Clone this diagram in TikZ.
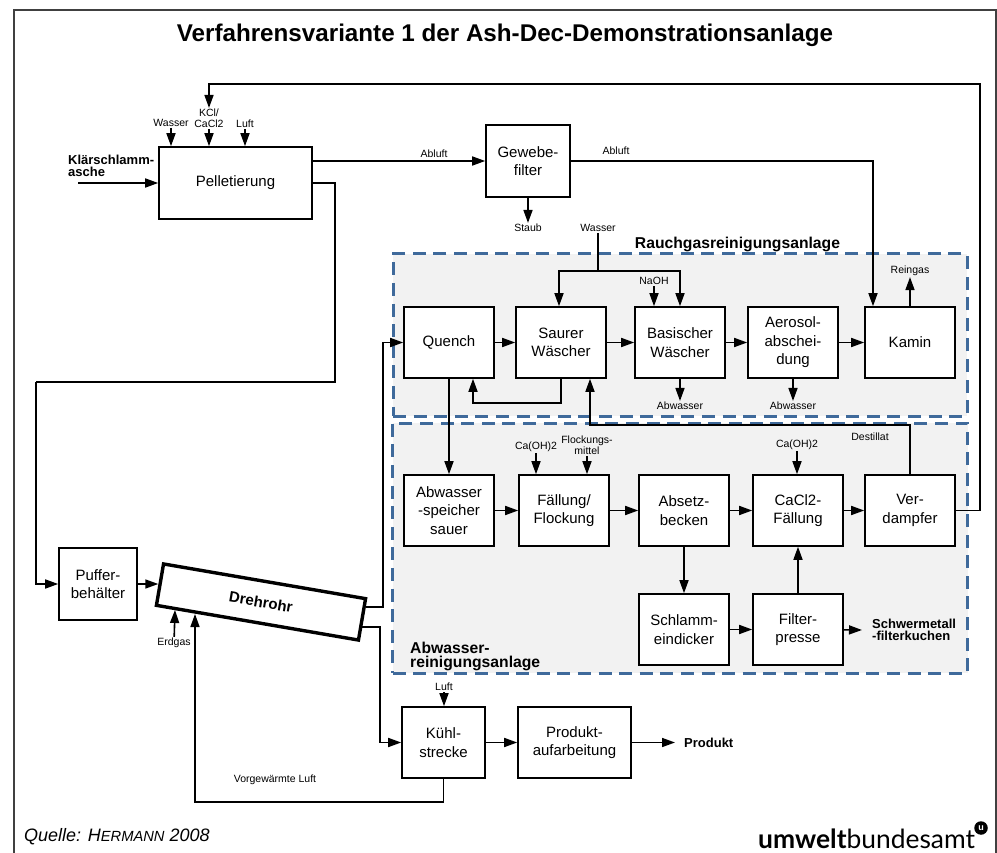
\documentclass[tikz,border=0pt]{standalone}
\usepackage{fontspec}
\setmainfont{Liberation Sans}
\newfontfamily\logofont{Lato}
\usepackage{xcolor}
\usetikzlibrary{arrows.meta}
\definecolor{regionblue}{HTML}{3F6A9B}
\definecolor{regiongrey}{HTML}{F2F2F2}
\tikzstyle{process} = [rectangle, 
minimum width=90pt, 
minimum height=71pt, 
inner sep=0pt,
align=center, 
draw=black, 
line width=1.6pt,
fill=white,
font=\fontsize{15}{18.5}\selectfont]
\tikzstyle{region} = [rectangle, 
draw=regionblue, 
fill=regiongrey, 
line width=3pt, 
dash pattern=on 13pt off 7.6pt, 
inner sep=0pt]
\tikzstyle{note} = [inner sep=1pt, align=center, 
font=\fontsize{10.5}{11}\selectfont]
\tikzstyle{boldnote} = [inner sep=0pt, align=left, 
font=\fontsize{13}{11.5}\selectfont\bfseries]
\tikzstyle{arrow} = [line width=1.6pt,-{Stealth[length=13pt,width=9pt,inset=0pt]}]
\tikzstyle{pipe} = [line width=1.6pt]

\begin{document}
\begin{tikzpicture}[x=1pt,y=-1pt,node distance=112pt]
\useasboundingbox (0,0) rectangle (997,853);

\draw [line width=1.2pt, black!75] (14,853) -- (14,10) -- (996,10) -- (996,853);
\node (title) at (505,35) [inner sep=0pt, font=\fontsize{24.2}{26}\selectfont\bfseries] {Verfahrensvariante 1 der Ash-Dec-Demonstrationsanlage};

\node (rauchgas) at (680,335) [region, minimum width=574pt, minimum height=162pt] {};
\node (abwasseranlage) at (680,548) [region, minimum width=575pt, minimum height=250pt] {};
\node (rauchgastitle) at (737.5,244) [boldnote, font=\fontsize{15.7}{16}\selectfont\bfseries] {Rauchgasreinigungsanlage};
\node (abwassertitle) at (410,656) [boldnote, anchor=west, font=\fontsize{15.7}{14}\selectfont\bfseries] {Abwasser-\\reinigungsanlage};

\node (pellet) at (235.5,183) [process, minimum width=153pt, minimum height=72pt] {Pelletierung};
\node (gewebe) at (528,161) [process, minimum width=84pt, minimum height=72pt] {Gewebe-\\filter};
\node (puffer) at (98,584) [process, minimum width=78pt, minimum height=72pt] {Puffer-\\behälter};
\node (drehrohr) at (261,602) [process, rotate=-9.75, minimum width=205pt, minimum height=42pt, line width=3.4pt, font=\fontsize{15}{15}\selectfont\bfseries] {Drehrohr};
\node (kuehl) at (443.5,742.5) [process, minimum width=83pt] {Kühl-\\strecke};
\node (aufarbeitung) at (574.5,742.5) [process, minimum width=113pt] {Produkt-\\aufarbeitung};

\node (quench) at (449,342.5) [process] {Quench};
\node (saurer) [process, right of=quench] {Saurer\\Wäscher};
\node (basisch) [process, right of=saurer, xshift=7pt] {Basischer\\Wäscher};
\node (aerosol) [process, right of=basisch, xshift=1pt] {Aerosol-\\abschei-\\dung};
\node (kamin) [process, right of=aerosol, xshift=5pt] {Kamin};

\node (speicher) at (449,510.5) [process] {Abwasser\\-speicher\\sauer};
\node (faellung) [process, right of=speicher, xshift=3pt] {Fällung/\\Flockung};
\node (absetz) [process, right of=faellung, xshift=8pt] {Absetz-\\becken};
\node (cacl) [process, right of=absetz, xshift=2pt] {CaCl2-\\Fällung};
\node (verdampfer) [process, right of=cacl] {Ver-\\dampfer};
\node (schlamm) at (684,629.5) [process] {Schlamm-\\eindicker};
\node (presse) [process, right of=schlamm, xshift=2pt] {Filter-\\presse};

\node (klaer) at (68,166) [boldnote, anchor=west] {Klärschlamm-\\asche};
\node (wasserp) at (171,123) [note] {Wasser};
\node (kcl) at (209,118.5) [note] {KCl/\\CaCl2};
\node (luftp) at (245,124) [note] {Luft};
\node (abluft1) at (434,154) [note] {Abluft};
\node (abluft2) at (616,151) [note] {Abluft};
\node (staub) at (528,228) [note] {Staub};
\node (wasserq) at (598,228) [note] {Wasser};
\node (naoh) at (654,281) [note] {NaOH};
\node (reingas) at (910,271) [note] {Reingas};
\node (abwasser1) at (680,406) [note] {Abwasser};
\node (abwasser2) at (793,406) [note] {Abwasser};
\node (destillat) at (870,437) [note] {Destillat};
\node (caoh1) at (536,447) [note] {Ca(OH)2};
\node (flockung) at (587,445.5) [note] {Flockungs-\\mittel};
\node (caoh2) at (797,445) [note] {Ca(OH)2};
\node (erdgas) at (174,643) [note] {Erdgas};
\node (luftk) at (444,687) [note] {Luft};
\node (vorluft) at (275,780) [note] {Vorgewärmte Luft};
\node (schwer) at (872,630) [boldnote, anchor=west] {Schwermetall\\-filterkuchen};
\node (produkt) at (684,742.5) [boldnote, anchor=west] {Produkt};

\node (quelle) at (24,837) [inner sep=0pt, anchor=west, font=\fontsize{18}{20}\selectfont\itshape] {Quelle: H{\fontsize{14.7}{20}\selectfont ERMANN} 2008};
\node (logo) at (758,839) [inner sep=0pt, anchor=west, font=\fontsize{26.4}{28}\selectfont\logofont] {\textbf{umwelt}bundesamt};
\node (logomark) at (981,828) [circle, fill=black, inner sep=0pt, minimum size=13.5pt, text=white, font=\fontsize{9}{9}\selectfont\bfseries] {u};

\coordinate (start) at (78,183);
\coordinate (bendA) at (335,382);
\coordinate (bendB) at (36,382);
\coordinate (bendT) at (980,84);
\coordinate (split) at (598,271);
\coordinate (exitQ) at (366,607);
\coordinate (exitK) at (362,627);
\coordinate (bendQ) at (383,342.5);
\coordinate (bendK) at (380,742.5);
\coordinate (rohrE) at (175,610);
\coordinate (rohrL) at (195,614);

\draw [arrow] (start) -- (pellet);
\draw [arrow] (gewebe -| pellet.east) -- (gewebe);
\draw [pipe] (pellet.east) -| (bendA) -- (bendB);
\draw [arrow] (bendB) |- (puffer);
\draw [arrow] (puffer.east) -- (puffer.east -| drehrohr.west);
\draw [arrow] (wasserp) -- (wasserp |- pellet.north);
\draw [arrow] (kcl) -- (kcl |- pellet.north);
\draw [arrow] (luftp) -- (luftp |- pellet.north);
\draw [arrow] (gewebe) -- (staub);
\draw [arrow] (gewebe.east) -| ([xshift=-37pt]kamin.north);
\draw [pipe] (wasserq) -- (split);
\draw [arrow] (split) -| ([xshift=-2pt]saurer.north);
\draw [arrow] (split) -| (basisch.north);
\draw [arrow] (naoh) -- (naoh |- basisch.north);
\draw [arrow] (kamin.north) -- (reingas);
\draw [arrow] (quench) -- (saurer);
\draw [arrow] (saurer) -- (basisch);
\draw [arrow] (basisch) -- (aerosol);
\draw [arrow] (aerosol) -- (kamin);
\draw [arrow] (saurer.south) -- ++(0,24) -| ([xshift=24pt]quench.south);
\draw [arrow] (basisch) -- (abwasser1);
\draw [arrow] (aerosol) -- (abwasser2);
\draw [arrow] (quench) -- (speicher);
\draw [arrow] (speicher) -- (faellung);
\draw [arrow] (faellung) -- (absetz);
\draw [arrow] (absetz) -- (cacl);
\draw [arrow] (cacl) -- (verdampfer);
\draw [arrow] (verdampfer.north) -- ++(0,-49) -| ([xshift=29pt]saurer.south);
\draw [arrow] (verdampfer.east) -| (bendT) -| (kcl.north);
\draw [arrow] (caoh1) -- (caoh1 |- faellung.north);
\draw [arrow] (flockung) -- (flockung |- faellung.north);
\draw [arrow] (caoh2) -- (caoh2 |- cacl.north);
\draw [arrow] (absetz) -- (schlamm);
\draw [arrow] (schlamm) -- (presse);
\draw [arrow] (presse) -- (presse |- cacl.south);
\draw [arrow] (presse) -- ([xshift=-10pt]schwer.west);
\draw [arrow] (exitQ) -| (bendQ) -- (quench);
\draw [arrow] (exitK) -| (bendK) -- (kuehl);
\draw [arrow] (erdgas) -- (rohrE);
\draw [arrow] (kuehl.south) -- ++(0,23) -| (rohrL);
\draw [arrow] (luftk) -- (luftk |- kuehl.north);
\draw [arrow] (kuehl) -- (aufarbeitung);
\draw [arrow] (aufarbeitung) -- ([xshift=-9pt]produkt.west);

\end{tikzpicture}
\end{document}
